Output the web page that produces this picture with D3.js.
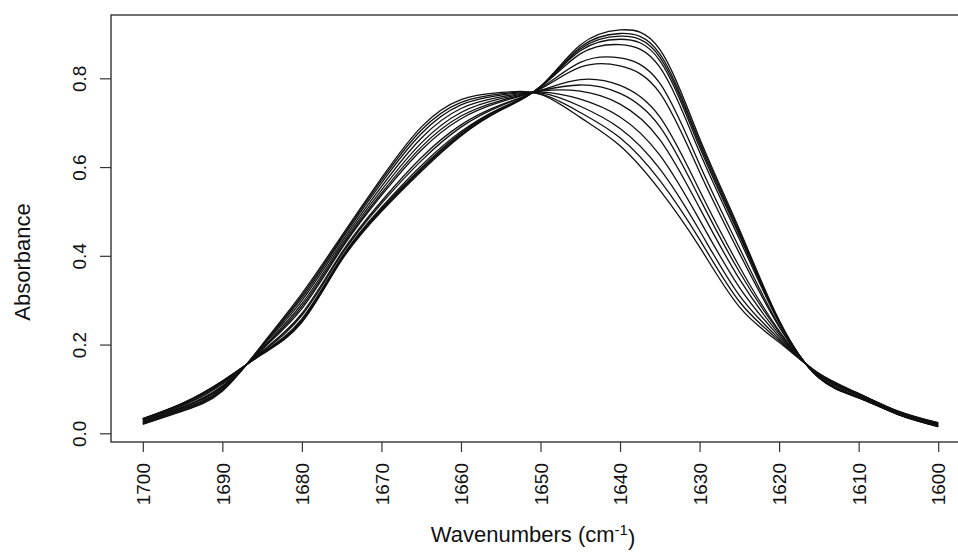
<!DOCTYPE html>
<html>
<head>
<meta charset="utf-8">
<script src="https://cdn.jsdelivr.net/npm/d3@7"></script>
<style>
  body { margin: 0; background: #fff; }
  svg { display: block; font-family: "Liberation Sans", Arial, Helvetica, sans-serif; }
</style>
</head>
<body>
<div id="chart"></div>
<script>
// wavenumber grid (cm-1), read every 5 units
const wavenumbers = [1700, 1695, 1690, 1685, 1680, 1675, 1670, 1665, 1660, 1655, 1650,
                     1645, 1640, 1635, 1630, 1625, 1620, 1615, 1610, 1605, 1600];

// absorbance spectra, sharpest band (1640) first, broadest last
const spec01 = [0.033, 0.068, 0.118, 0.178, 0.250, 0.390, 0.500, 0.590, 0.670, 0.728, 0.782, 0.875, 0.909, 0.865, 0.665, 0.460, 0.255, 0.125, 0.080, 0.042, 0.015];
const spec02 = [0.033, 0.067, 0.117, 0.179, 0.252, 0.392, 0.502, 0.593, 0.672, 0.729, 0.781, 0.870, 0.901, 0.855, 0.658, 0.455, 0.253, 0.125, 0.080, 0.042, 0.015];
const spec03 = [0.032, 0.067, 0.117, 0.179, 0.254, 0.393, 0.504, 0.596, 0.675, 0.730, 0.781, 0.866, 0.895, 0.848, 0.652, 0.450, 0.252, 0.126, 0.081, 0.042, 0.016];
const spec04 = [0.032, 0.067, 0.116, 0.180, 0.255, 0.394, 0.506, 0.598, 0.677, 0.731, 0.781, 0.862, 0.888, 0.840, 0.645, 0.446, 0.251, 0.126, 0.081, 0.043, 0.016];
const spec05 = [0.031, 0.066, 0.115, 0.181, 0.258, 0.397, 0.509, 0.603, 0.680, 0.733, 0.780, 0.855, 0.876, 0.825, 0.634, 0.438, 0.249, 0.126, 0.081, 0.043, 0.016];
const spec06 = [0.030, 0.064, 0.113, 0.183, 0.266, 0.403, 0.518, 0.614, 0.690, 0.738, 0.778, 0.836, 0.846, 0.789, 0.606, 0.418, 0.243, 0.127, 0.082, 0.044, 0.017];
const spec07 = [0.029, 0.062, 0.111, 0.185, 0.270, 0.407, 0.523, 0.621, 0.695, 0.740, 0.776, 0.825, 0.828, 0.767, 0.589, 0.406, 0.240, 0.128, 0.083, 0.045, 0.018];
const spec08 = [0.027, 0.059, 0.107, 0.189, 0.281, 0.416, 0.536, 0.638, 0.709, 0.747, 0.773, 0.797, 0.784, 0.713, 0.547, 0.376, 0.231, 0.130, 0.085, 0.046, 0.019];
const spec09 = [0.026, 0.058, 0.105, 0.190, 0.286, 0.420, 0.541, 0.645, 0.715, 0.750, 0.772, 0.785, 0.766, 0.691, 0.530, 0.364, 0.228, 0.131, 0.086, 0.046, 0.020];
const spec10 = [0.025, 0.057, 0.103, 0.192, 0.292, 0.425, 0.548, 0.654, 0.723, 0.754, 0.771, 0.771, 0.742, 0.662, 0.508, 0.348, 0.223, 0.131, 0.086, 0.047, 0.021];
const spec11 = [0.023, 0.055, 0.101, 0.195, 0.299, 0.431, 0.556, 0.665, 0.732, 0.758, 0.769, 0.753, 0.713, 0.627, 0.481, 0.329, 0.218, 0.133, 0.088, 0.048, 0.022];
const spec12 = [0.022, 0.053, 0.099, 0.197, 0.305, 0.437, 0.564, 0.675, 0.740, 0.762, 0.767, 0.737, 0.687, 0.596, 0.457, 0.311, 0.213, 0.134, 0.089, 0.049, 0.023];
const spec13 = [0.021, 0.051, 0.097, 0.198, 0.310, 0.441, 0.570, 0.683, 0.746, 0.765, 0.765, 0.723, 0.666, 0.570, 0.437, 0.297, 0.209, 0.134, 0.089, 0.049, 0.023];
const spec14 = [0.020, 0.050, 0.095, 0.200, 0.315, 0.445, 0.575, 0.690, 0.752, 0.768, 0.764, 0.712, 0.648, 0.548, 0.420, 0.285, 0.205, 0.135, 0.090, 0.050, 0.024];

const spectra = [spec01, spec02, spec03, spec04, spec05, spec06, spec07,
                 spec08, spec09, spec10, spec11, spec12, spec13, spec14];

const xTicks = [1700, 1690, 1680, 1670, 1660, 1650, 1640, 1630, 1620, 1610, 1600];
const yTicks = [0.0, 0.2, 0.4, 0.6, 0.8];

const width = 958, height = 552;
const box = { left: 111, right: 970, top: 15, bottom: 442 };

// reversed wavenumber axis, R style 4% padding
const xScale = d3.scaleLinear().domain([1704, 1596]).range([box.left, box.right]);
const yScale = d3.scaleLinear().domain([-0.0196, 0.9427]).range([box.bottom, box.top]);

const svg = d3.select("#chart").append("svg")
  .attr("width", width)
  .attr("height", height);

// spectra
const line = d3.line()
  .x((d, i) => xScale(wavenumbers[i]))
  .y(d => yScale(d))
  .curve(d3.curveNatural);

svg.append("g")
  .selectAll("path")
  .data(spectra)
  .join("path")
  .attr("d", line)
  .attr("fill", "none")
  .attr("stroke", "#111")
  .attr("stroke-width", 1.3);

// plot box
svg.append("rect")
  .attr("x", box.left)
  .attr("y", box.top)
  .attr("width", box.right - box.left)
  .attr("height", box.bottom - box.top)
  .attr("fill", "none")
  .attr("stroke", "#333")
  .attr("stroke-width", 1.4);

// x axis
const xAxis = svg.append("g")
  .attr("transform", "translate(0," + box.bottom + ")")
  .call(d3.axisBottom(xScale).tickValues(xTicks).tickFormat(d3.format("d")).tickSize(10).tickSizeOuter(0));
xAxis.select(".domain").remove();
xAxis.selectAll(".tick line").attr("stroke", "#333").attr("stroke-width", 1.2);
xAxis.selectAll(".tick text")
  .attr("transform", "rotate(-90)")
  .attr("x", -21)
  .attr("y", 0)
  .attr("dy", "0.35em")
  .attr("text-anchor", "end")
  .attr("font-size", 19)
  .attr("fill", "#111");

// y axis
const yAxis = svg.append("g")
  .attr("transform", "translate(" + box.left + ",0)")
  .call(d3.axisLeft(yScale).tickValues(yTicks).tickFormat(d3.format(".1f")).tickSize(11).tickSizeOuter(0));
yAxis.select(".domain").remove();
yAxis.selectAll(".tick line").attr("stroke", "#333").attr("stroke-width", 1.2);
yAxis.selectAll(".tick text")
  .attr("transform", "rotate(-90)")
  .attr("x", 0)
  .attr("y", -25)
  .attr("dy", 0)
  .attr("text-anchor", "middle")
  .attr("font-size", 19)
  .attr("fill", "#111");

// axis titles
svg.append("text")
  .attr("transform", "translate(30,262) rotate(-90)")
  .attr("text-anchor", "middle")
  .attr("font-size", 22)
  .attr("fill", "#111")
  .text("Absorbance");

const xlab = svg.append("text")
  .attr("x", 533)
  .attr("y", 542)
  .attr("text-anchor", "middle")
  .attr("font-size", 22)
  .attr("fill", "#111");
xlab.append("tspan").text("Wavenumbers (cm");
xlab.append("tspan").attr("dy", "-0.45em").attr("font-size", 15).text("-1");
xlab.append("tspan").attr("dy", "0.45em").text(")");
</script>
</body>
</html>
